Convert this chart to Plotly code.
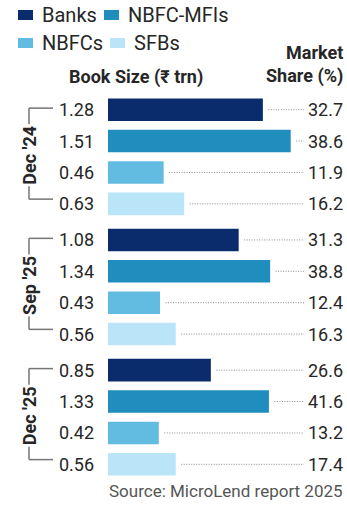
import plotly.graph_objects as go

# ---- data ----
periods = ["Dec '24", "Sep '25", "Dec '25"]
segments = ["Banks", "NBFC-MFIs", "NBFCs", "SFBs"]
book_size = {
    "Dec '24": [1.28, 1.51, 0.46, 0.63],
    "Sep '25": [1.08, 1.34, 0.43, 0.56],
    "Dec '25": [0.85, 1.33, 0.42, 0.56],
}
market_share = {
    "Dec '24": [32.7, 38.6, 11.9, 16.2],
    "Sep '25": [31.3, 38.8, 12.4, 16.3],
    "Dec '25": [26.6, 41.6, 13.2, 17.4],
}
colors = ["#0a2c6d", "#1f8ebf", "#62bce1", "#bae5f9"]
source_text = "Source: MicroLend report 2025"

# ---- layout geometry (pixels) ----
W_FIG, H_FIG = 347, 505
ML, MR, MT, MB = 108, 0, 94, 25
PX_PER_X = 121.0
PLOT_W = W_FIG - ML - MR
PLOT_H = H_FIG - MT - MB
Y_MIN, Y_MAX = -0.5, 11.8
PX_PER_Y = PLOT_H / (Y_MAX - Y_MIN)
GROUP_STEP = 4.15
RIGHT_EDGE = 345


def xd(px):
    return (px - ML) / PX_PER_X


def px_x(px):   # pixel -> paper x
    return (px - ML) / PLOT_W


def px_y(py):   # pixel -> paper y
    return (H_FIG - MB - py) / PLOT_H


def data_y_to_px(y):
    return MT + (y - Y_MIN) * PX_PER_Y


FONT = "Roboto, 'Noto Sans', sans-serif"
TXT = "#262626"

fig = go.Figure()
annotations = []
shapes = []

for g, p in enumerate(periods):
    ys = [g * GROUP_STEP + i for i in range(len(segments))]
    for i, seg in enumerate(segments):
        v = book_size[p][i]
        fig.add_trace(go.Bar(
            x=[v], y=[ys[i]], orientation="h", width=0.72,
            marker=dict(color=colors[i], line=dict(width=0)),
            showlegend=False, hoverinfo="skip",
        ))
        # dotted leader
        fig.add_trace(go.Scatter(
            x=[v + 0.045, xd(RIGHT_EDGE - 41)], y=[ys[i], ys[i]], mode="lines",
            line=dict(color="#8c8c8c", width=1, dash="1px,1.5px"),
            showlegend=False, hoverinfo="skip",
        ))
        # left value label
        annotations.append(dict(
            x=0, y=ys[i], xref="paper", yref="y", xanchor="right", yanchor="middle",
            xshift=-12, text=f"{v:.2f}", showarrow=False,
            font=dict(family=FONT, size=18, color=TXT),
        ))
        # right market share label
        annotations.append(dict(
            x=px_x(RIGHT_EDGE), y=px_y(data_y_to_px(ys[i])), xref="paper", yref="paper",
            xanchor="right", yanchor="middle",
            text=f"{market_share[p][i]:.1f}", showarrow=False,
            font=dict(family=FONT, size=18, color=TXT),
        ))
    # bracket
    top = px_y(data_y_to_px(ys[0] - 0.05))
    bot = px_y(data_y_to_px(ys[-1] - 0.15))
    xl, xr = px_x(29), px_x(53)
    for (x0, y0, x1, y1) in [(xl, top, xl, bot), (xl, top, xr, top), (xl, bot, xr, bot)]:
        shapes.append(dict(type="line", xref="paper", yref="paper", x0=x0, y0=y0, x1=x1, y1=y1,
                           line=dict(color="#757575", width=1.5)))
    annotations.append(dict(
        x=px_x(29.5), y=px_y(data_y_to_px(ys[0] + 1.45)), xref="paper", yref="paper",
        xanchor="center", yanchor="middle",
        text=f"<b>{p}</b>", textangle=-90, showarrow=False, bgcolor="white",
        font=dict(family=FONT, size=18, color=TXT),
    ))

# headers
annotations.append(dict(x=px_x(136), y=px_y(77), xref="paper", yref="paper",
                        xanchor="center", yanchor="middle",
                        text="<b>Book Size (₹ trn)</b>", showarrow=False,
                        font=dict(family=FONT, size=18, color=TXT)))
annotations.append(dict(x=px_x(RIGHT_EDGE), y=px_y(65), xref="paper", yref="paper",
                        xanchor="right", yanchor="middle",
                        text="<b>Market<br>Share (%)</b>", showarrow=False, align="right",
                        font=dict(family=FONT, size=18, color=TXT)))
# source
annotations.append(dict(x=px_x(RIGHT_EDGE), y=px_y(491), xref="paper", yref="paper",
                        xanchor="right", yanchor="middle",
                        text=source_text, showarrow=False,
                        font=dict(family=FONT, size=17, color="#555555")))

# legend
legend_pos = [(18, 15), (104, 15), (18, 43), (110, 43)]
for i, seg in enumerate(segments):
    px, py = legend_pos[i]
    shapes.append(dict(type="rect", xref="paper", yref="paper", x0=px_x(px), x1=px_x(px + 15),
                       y0=px_y(py - 5), y1=px_y(py + 5), fillcolor=colors[i], line=dict(width=0)))
    annotations.append(dict(x=px_x(px + 22), y=px_y(py), xref="paper", yref="paper",
                            xanchor="left", yanchor="middle", text=seg, showarrow=False,
                            font=dict(family=FONT, size=20, color=TXT)))

fig.update_layout(
    width=W_FIG, height=H_FIG,
    margin=dict(l=ML, r=MR, t=MT, b=MB, pad=0),
    paper_bgcolor="white", plot_bgcolor="white",
    barmode="overlay",
    xaxis=dict(range=[0, PLOT_W / PX_PER_X], visible=False, fixedrange=True),
    yaxis=dict(range=[Y_MAX, Y_MIN], visible=False, fixedrange=True),
    annotations=annotations, shapes=shapes,
    showlegend=False,
)

fig.write_html("out.html", config={"displayModeBar": False})
